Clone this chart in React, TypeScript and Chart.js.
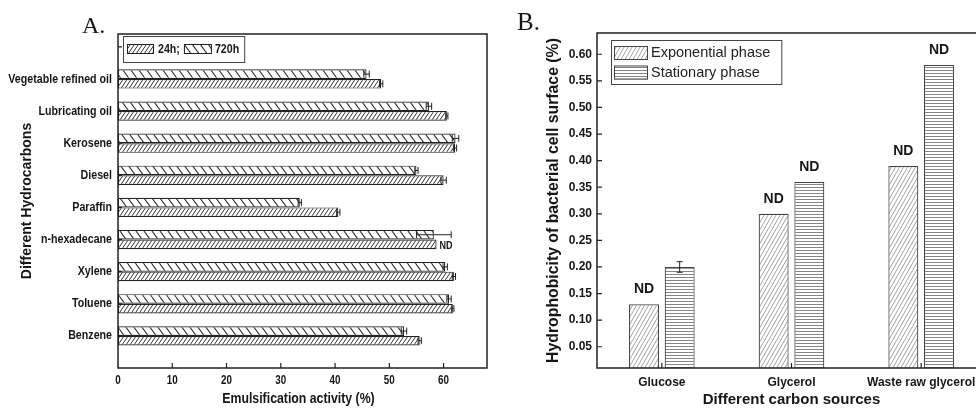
import React, { useEffect, useRef } from 'react';
import { Chart, registerables } from 'chart.js';

Chart.register(...registerables);

// ---------- Panel A data ----------
const hydrocarbons = ['Vegetable refined oil', 'Lubricating oil', 'Kerosene', 'Diesel', 'Paraffin', 'n-hexadecane', 'Xylene', 'Toluene', 'Benzene'];
const activity24h = [48.5, 60.6, 62.1, 60.0, 40.6, 58.7, 61.9, 61.7, 55.6];
const error24h = [0.3, 0.2, 0.3, 0.5, 0.3, 0, 0.3, 0.2, 0.3];
const nd24h = [false, false, false, false, false, true, false, false, false];
const activity720h = [45.8, 57.3, 62.2, 55.0, 33.5, 58.2, 60.3, 61.0, 52.7];
const error720h = [0.5, 0.5, 0.6, 0.3, 0.3, 3.2, 0.4, 0.4, 0.5];
const activityTicks = [0, 10, 20, 30, 40, 50, 60];
const activityMax = 68;

// ---------- Panel B data ----------
const carbonSources = ['Glucose', 'Glycerol', 'Waste raw glycerol'];
const exponential = [0.13, 0.30, 0.39];
const exponentialErr = [0, 0, 0];
const exponentialND = [true, true, true];
const stationary = [0.20, 0.36, 0.58];
const stationaryErr = [0.01, 0, 0];
const stationaryND = [false, true, true];
const hydroTicks = [0.05, 0.10, 0.15, 0.20, 0.25, 0.30, 0.35, 0.40, 0.45, 0.50, 0.55, 0.60];

const SANS = "'Liberation Sans', Arial, sans-serif";
const SERIF = "'Liberation Serif', 'Times New Roman', serif";
const INK = '#161616';
const NARROW_X = 0.82; // horizontal squeeze emulating a narrow face

function makeHatch(kind: string, w: number, h: number, color: string, lw: number) {
  const c = document.createElement('canvas');
  c.width = w;
  c.height = h;
  const g = c.getContext('2d')!;
  g.fillStyle = '#ffffff';
  g.fillRect(0, 0, w, h);
  g.strokeStyle = color;
  g.lineWidth = lw;
  g.beginPath();
  if (kind === 'horiz') {
    g.moveTo(0, h / 2);
    g.lineTo(w, h / 2);
  } else if (kind === 'fwd') {
    for (const dx of [-w, 0, w]) {
      g.moveTo(dx, h);
      g.lineTo(dx + w, 0);
    }
  } else {
    for (const dx of [-w, 0, w]) {
      g.moveTo(dx, 0);
      g.lineTo(dx + w, h);
    }
  }
  g.stroke();
  return g.createPattern(c, 'repeat')!;
}

function drawFrame(chart: any) {
  const { ctx, chartArea: ca } = chart;
  ctx.save();
  ctx.strokeStyle = '#222';
  ctx.lineWidth = 1.5;
  ctx.strokeRect(ca.left, ca.top, ca.right - ca.left, ca.bottom - ca.top);
  ctx.restore();
}

function drawInnerTicks(chart: any, scale: any, len: number, skipZero: boolean) {
  const { ctx, chartArea: ca } = chart;
  ctx.save();
  ctx.strokeStyle = '#222';
  ctx.lineWidth = 1.2;
  ctx.beginPath();
  scale.ticks.forEach((t: any, i: number) => {
    if (skipZero && t.value === 0) return;
    const p = scale.getPixelForTick(i);
    if (scale.isHorizontal()) {
      ctx.moveTo(p, ca.bottom);
      ctx.lineTo(p, ca.bottom - len);
    } else {
      ctx.moveTo(ca.left, p);
      ctx.lineTo(ca.left + len, p);
    }
  });
  ctx.stroke();
  ctx.restore();
}

// text with horizontal squeeze; returns drawn width
function narrowText(ctx: any, text: string, x: number, y: number, align: string, font: string) {
  ctx.save();
  ctx.font = font;
  ctx.fillStyle = INK;
  ctx.textBaseline = 'middle';
  ctx.textAlign = align;
  ctx.translate(x, y);
  ctx.scale(NARROW_X, 1);
  ctx.fillText(text, 0, 0);
  const w = ctx.measureText(text).width * NARROW_X;
  ctx.restore();
  return w;
}

function swatch(ctx: any, x: number, y: number, w: number, h: number, fill: any, stroke: string) {
  ctx.save();
  ctx.fillStyle = fill;
  ctx.fillRect(x, y, w, h);
  ctx.strokeStyle = stroke;
  ctx.lineWidth = 1;
  ctx.strokeRect(x + 0.5, y + 0.5, w - 1, h - 1);
  ctx.restore();
}

function PanelA() {
  const ref = useRef<HTMLCanvasElement>(null);
  useEffect(() => {
    const pat24 = makeHatch('fwd', 4, 6, '#333', 1);
    const pat720 = makeHatch('back', 8, 11, '#333', 1.1);
    const n = hydrocarbons.length;
    const yLabel = (v: number) => hydrocarbons[n - v] ?? '';
    const plugin = {
      id: 'panelA',
      beforeDatasetsDraw(chart: any) {
        drawInnerTicks(chart, chart.scales.x, 5, true);
        drawInnerTicks(chart, chart.scales.y, 4, true);
      },
      afterDatasetsDraw(chart: any) {
        const { ctx, chartArea: ca } = chart;
        const xs = chart.scales.x;
        const ys = chart.scales.y;
        // error bars
        const series = [
          { idx: 0, vals: activity720h, errs: error720h },
          { idx: 1, vals: activity24h, errs: error24h },
        ];
        ctx.save();
        ctx.strokeStyle = '#222';
        ctx.lineWidth = 1;
        ctx.beginPath();
        series.forEach((s) => {
          const meta = chart.getDatasetMeta(s.idx);
          meta.data.forEach((el: any, i: number) => {
            const e = s.errs[i];
            if (!e) return;
            const y = el.y;
            const x1 = xs.getPixelForValue(s.vals[i] - e);
            const x2 = xs.getPixelForValue(s.vals[i] + e);
            ctx.moveTo(x1, y); ctx.lineTo(x2, y);
            ctx.moveTo(x1, y - 3.5); ctx.lineTo(x1, y + 3.5);
            ctx.moveTo(x2, y - 3.5); ctx.lineTo(x2, y + 3.5);
          });
        });
        ctx.stroke();
        ctx.restore();
        // ND marks
        chart.getDatasetMeta(1).data.forEach((el: any, i: number) => {
          if (nd24h[i]) narrowText(ctx, 'ND', el.x + 3, el.y + 2, 'left', `bold 11px ${SANS}`);
        });
        drawFrame(chart);
        // tick labels
        ys.ticks.forEach((t: any, i: number) => {
          const txt = yLabel(t.value);
          if (txt) narrowText(ctx, txt, ca.left - 6, ys.getPixelForTick(i), 'right', `bold 13px ${SANS}`);
        });
        xs.ticks.forEach((t: any, i: number) => {
          narrowText(ctx, String(t.value), xs.getPixelForTick(i), ca.bottom + 13, 'center', `bold 12px ${SANS}`);
        });
        narrowText(ctx, 'Emulsification activity (%)', (ca.left + ca.right) / 2 - 4, chart.height - 10, 'center', `bold 15px ${SANS}`);
        // legend
        const bx = ca.left + 5, by = ca.top + 2, bh = 26, cy = by + 13;
        const lf = `bold 13px ${SANS}`;
        let x = bx + 4;
        swatch(ctx, x, cy - 5, 27, 10, pat24, '#222');
        x += 31;
        x += narrowText(ctx, chart.data.datasets[1].label + ';', x, cy, 'left', lf) + 4;
        swatch(ctx, x, cy - 5, 28, 10, pat720, '#222');
        x += 31;
        x += narrowText(ctx, chart.data.datasets[0].label, x, cy, 'left', lf) + 5;
        ctx.save();
        ctx.strokeStyle = '#444';
        ctx.lineWidth = 1;
        ctx.strokeRect(bx + 0.5, by + 0.5, x - bx, bh);
        // panel letter
        ctx.font = `24px ${SERIF}`;
        ctx.fillStyle = INK;
        ctx.textAlign = 'left';
        ctx.textBaseline = 'alphabetic';
        ctx.fillText('A.', ca.left - 36, ca.top - 1);
        ctx.restore();
      },
    };
    const chart = new Chart(ref.current!, {
      type: 'bar',
      data: {
        datasets: [
          {
            label: '720h',
            data: activity720h.map((v, i) => ({ x: v, y: n - i })) as any,
            backgroundColor: pat720 as any,
            borderColor: '#222',
            borderWidth: 1.2,
            borderSkipped: false,
            categoryPercentage: 0.6,
            barPercentage: 1,
          },
          {
            label: '24h',
            data: activity24h.map((v, i) => ({ x: v, y: n - i })) as any,
            backgroundColor: pat24 as any,
            borderColor: '#222',
            borderWidth: 1.2,
            borderSkipped: false,
            categoryPercentage: 0.6,
            barPercentage: 1,
          },
        ],
      },
      options: {
        indexAxis: 'y',
        responsive: false,
        maintainAspectRatio: false,
        animation: false,
        events: [],
        layout: { padding: { top: 34, right: 8, left: 0, bottom: 0 } },
        plugins: { legend: { display: false }, tooltip: { enabled: false } },
        scales: {
          x: {
            type: 'linear',
            min: 0,
            max: activityMax,
            bounds: 'data',
            offset: false,
            grid: { display: false, drawTicks: false, offset: false },
            border: { display: false },
            afterBuildTicks: (s: any) => { s.ticks = activityTicks.map((v) => ({ value: v })); },
            afterFit: (s: any) => { s.height = 41; },
            ticks: { display: false },
            title: { display: false },
          },
          y: {
            type: 'linear',
            min: 0,
            max: n + 1.4,
            bounds: 'data',
            offset: false,
            grid: { display: false, drawTicks: false, offset: false },
            border: { display: false },
            afterBuildTicks: (s: any) => {
              s.ticks = [...hydrocarbons.map((_, i) => ({ value: n - i })), { value: n + 1 }];
            },
            afterFit: (s: any) => { s.width = 118; },
            ticks: { display: false },
            title: {
              display: true,
              text: 'Different Hydrocarbons',
              color: INK,
              font: { family: SANS, size: 14, weight: 'bold' },
              padding: { top: 18.6, bottom: 0 },
            },
          },
        },
      } as any,
      plugins: [plugin],
    });
    return () => chart.destroy();
  }, []);
  return (
    <canvas
      ref={ref}
      width={495}
      height={409}
      style={{ position: 'absolute', left: 0, top: 0, width: 495, height: 409 }}
    />
  );
}

function PanelB() {
  const ref = useRef<HTMLCanvasElement>(null);
  useEffect(() => {
    const patExp = makeHatch('fwd', 4, 7, '#8a8a8a', 0.8);
    const patStat = makeHatch('horiz', 4, 3, '#777', 0.9);
    const plugin = {
      id: 'panelB',
      beforeDatasetsDraw(chart: any) {
        drawInnerTicks(chart, chart.scales.x, 5, false);
        drawInnerTicks(chart, chart.scales.y, 5, false);
      },
      afterDatasetsDraw(chart: any) {
        const { ctx, chartArea: ca } = chart;
        const ys = chart.scales.y;
        const series = [
          { idx: 0, vals: exponential, errs: exponentialErr, nd: exponentialND },
          { idx: 1, vals: stationary, errs: stationaryErr, nd: stationaryND },
        ];
        ctx.save();
        ctx.strokeStyle = '#222';
        ctx.lineWidth = 1;
        ctx.beginPath();
        series.forEach((s) => {
          chart.getDatasetMeta(s.idx).data.forEach((el: any, i: number) => {
            const e = s.errs[i];
            if (!e) return;
            const y1 = ys.getPixelForValue(s.vals[i] - e);
            const y2 = ys.getPixelForValue(s.vals[i] + e);
            ctx.moveTo(el.x, y1); ctx.lineTo(el.x, y2);
            ctx.moveTo(el.x - 3, y1); ctx.lineTo(el.x + 3, y1);
            ctx.moveTo(el.x - 3, y2); ctx.lineTo(el.x + 3, y2);
          });
        });
        ctx.stroke();
        ctx.fillStyle = INK;
        ctx.font = `bold 14px ${SANS}`;
        ctx.textAlign = 'center';
        ctx.textBaseline = 'middle';
        series.forEach((s) => {
          chart.getDatasetMeta(s.idx).data.forEach((el: any, i: number) => {
            if (s.nd[i]) ctx.fillText('ND', el.x, el.y - 15);
          });
        });
        ctx.restore();
        drawFrame(chart);
        // legend
        ctx.save();
        const bx = ca.left + 14, by = ca.top + 7, bh = 44;
        ctx.font = `14.5px ${SANS}`;
        ctx.fillStyle = '#222';
        ctx.textAlign = 'left';
        ctx.textBaseline = 'middle';
        const rows = [
          { cy: by + 13, fill: patExp, label: chart.data.datasets[0].label },
          { cy: by + 32.5, fill: patStat, label: chart.data.datasets[1].label },
        ];
        let maxW = 0;
        rows.forEach((r) => {
          swatch(ctx, bx + 3, r.cy - 7, 34, 14, r.fill, '#444');
          ctx.fillText(r.label, bx + 40, r.cy);
          maxW = Math.max(maxW, ctx.measureText(r.label).width);
        });
        ctx.strokeStyle = '#444';
        ctx.lineWidth = 1;
        ctx.strokeRect(bx + 0.5, by + 0.5, maxW + 51, bh);
        ctx.font = `25px ${SERIF}`;
        ctx.fillStyle = INK;
        ctx.textBaseline = 'alphabetic';
        ctx.fillText('B.', ca.left - 80, ca.top - 3);
        ctx.restore();
      },
    };
    const chart = new Chart(ref.current!, {
      type: 'bar',
      data: {
        labels: carbonSources,
        datasets: [
          {
            label: 'Exponential phase',
            data: exponential,
            backgroundColor: patExp as any,
            borderColor: '#444',
            borderWidth: 1.2,
            borderSkipped: false,
            categoryPercentage: 0.55,
            barPercentage: 0.84,
          },
          {
            label: 'Stationary phase',
            data: stationary,
            backgroundColor: patStat as any,
            borderColor: '#444',
            borderWidth: 1.2,
            borderSkipped: false,
            categoryPercentage: 0.55,
            barPercentage: 0.84,
          },
        ],
      },
      options: {
        responsive: false,
        maintainAspectRatio: false,
        animation: false,
        events: [],
        layout: { padding: { top: 33, right: 14, left: 0, bottom: 0 } },
        plugins: { legend: { display: false }, tooltip: { enabled: false } },
        scales: {
          x: {
            grid: { display: false, drawTicks: false },
            border: { display: false },
            afterFit: (s: any) => { s.height = 41; },
            ticks: {
              padding: 7,
              autoSkip: false,
              maxRotation: 0,
              color: INK,
              font: { family: SANS, size: 12, weight: 'bold' },
            },
            title: {
              display: true,
              text: 'Different carbon sources',
              color: INK,
              font: { family: SANS, size: 15, weight: 'bold' },
              padding: { top: 0, bottom: 0 },
            },
          },
          y: {
            type: 'linear',
            min: 0.01,
            max: 0.64,
            bounds: 'data',
            grid: { display: false, drawTicks: false },
            border: { display: false },
            afterBuildTicks: (s: any) => { s.ticks = hydroTicks.map((v) => ({ value: v })); },
            afterFit: (s: any) => { s.width = 102; },
            ticks: {
              padding: 5,
              autoSkip: false,
              color: INK,
              font: { family: SANS, size: 12, weight: 'bold' },
              callback: (v: any) => Number(v).toFixed(2),
            },
            title: {
              display: true,
              text: 'Hydrophobicity of bacterial cell surface (%)',
              color: INK,
              font: { family: SANS, size: 15.8, weight: 'bold' },
              padding: { top: 49.5, bottom: 0 },
            },
          },
        },
      } as any,
      plugins: [plugin],
    });
    return () => chart.destroy();
  }, []);
  return (
    <canvas
      ref={ref}
      width={505}
      height={409}
      style={{ position: 'absolute', left: 495, top: 0, width: 505, height: 409 }}
    />
  );
}

export default function App() {
  return (
    <div
      style={{
        position: 'fixed',
        left: 0,
        top: 0,
        width: 976,
        height: 409,
        overflow: 'hidden',
        background: '#ffffff',
      }}
    >
      <PanelA />
      <PanelB />
    </div>
  );
}
